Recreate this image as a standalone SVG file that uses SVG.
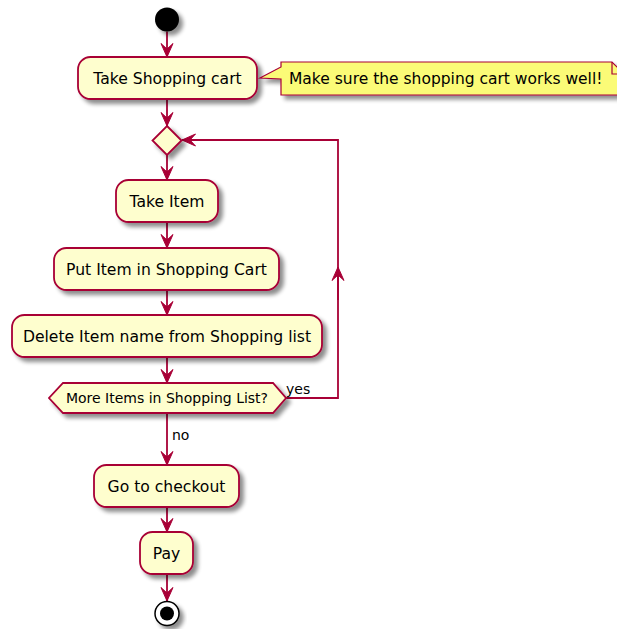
<svg xmlns="http://www.w3.org/2000/svg" width="617" height="629" viewBox="0 0 617 629">
<defs>
<filter id="sh" x="-20%" y="-20%" width="150%" height="160%">
<feGaussianBlur in="SourceAlpha" stdDeviation="2"/>
<feOffset dx="4" dy="4" result="o"/>
<feComponentTransfer><feFuncA type="linear" slope="0.45"/></feComponentTransfer>
<feMerge><feMergeNode/><feMergeNode in="SourceGraphic"/></feMerge>
</filter>
<marker id="ah" viewBox="0 0 15 14" refX="14" refY="7" markerWidth="15" markerHeight="14" markerUnits="userSpaceOnUse" orient="auto">
<path d="M14,7 L0.5,1 L6,7 L0.5,13 Z" fill="#A80036" stroke="#A80036" stroke-width="1"/>
</marker>
</defs>
<style>
.act{fill:#FEFECE;stroke:#A80036;stroke-width:1.8}
.t{font-family:"DejaVu Sans","Liberation Sans",sans-serif;font-size:15.6px;fill:#000;text-anchor:middle}
.s{font-family:"DejaVu Sans","Liberation Sans",sans-serif;font-size:14px;fill:#000}
.c{fill:none;stroke:#A80036;stroke-width:1.8}
</style>
<g id="connectors">
<path class="c" d="M167,31.5 V57" marker-end="url(#ah)"/>
<path class="c" d="M167,99 V126" marker-end="url(#ah)"/>
<path class="c" d="M167,155 V180" marker-end="url(#ah)"/>
<path class="c" d="M167,222 V248" marker-end="url(#ah)"/>
<path class="c" d="M167,290 V315" marker-end="url(#ah)"/>
<path class="c" d="M167,357 V383" marker-end="url(#ah)"/>
<path class="c" d="M167,413 V465" marker-end="url(#ah)"/>
<path class="c" d="M167,507 V532" marker-end="url(#ah)"/>
<path class="c" d="M167,574 V601" marker-end="url(#ah)"/>
<path class="c" d="M286,398 H338 V140 H182"/>
<path class="c" d="M338,300 V267" marker-end="url(#ah)"/>
<path class="c" d="M240,140 H182" marker-end="url(#ah)"/>
<text class="s" x="286" y="394">yes</text>
<text class="s" x="172" y="440">no</text>
</g>
<g id="start"><circle cx="167" cy="19.5" r="12" fill="#000" filter="url(#sh)"/></g>
<g id="take-cart">
<rect class="act" x="78" y="57" width="179" height="42" rx="12.5" filter="url(#sh)"/>
<text class="t" x="167.5" y="84">Take Shopping cart</text>
</g>
<g id="note">
<path d="M281,62 H612 L624,74 V95 H281 V79 L260,78 L281,67 Z" fill="#FBFB77" stroke="#A80036" stroke-width="1.2" filter="url(#sh)"/>
<path d="M612,62 V74 H624" fill="none" stroke="#A80036" stroke-width="1.2"/>
<text class="t" style="text-anchor:start;font-size:15.5px" x="289" y="84">Make sure the shopping cart works well!</text>
</g>
<g id="loop-merge">
<path class="act" d="M167,126 L181.5,140.5 L167,155 L152.5,140.5 Z" filter="url(#sh)"/>
</g>
<g id="take-item">
<rect class="act" x="116" y="180" width="102" height="42" rx="12.5" filter="url(#sh)"/>
<text class="t" x="167" y="207">Take Item</text>
</g>
<g id="put-item">
<rect class="act" x="54" y="248" width="225" height="42" rx="12.5" filter="url(#sh)"/>
<text class="t" x="166.5" y="275">Put Item in Shopping Cart</text>
</g>
<g id="delete-item">
<rect class="act" x="12" y="315" width="310" height="42" rx="12.5" filter="url(#sh)"/>
<text class="t" x="167" y="342">Delete Item name from Shopping list</text>
</g>
<g id="more-items">
<path class="act" d="M63,383 H273 L286,398 L273,413 H63 L49,398 Z" filter="url(#sh)"/>
<text class="s" style="text-anchor:middle" x="167" y="403">More Items in Shopping List?</text>
</g>
<g id="checkout">
<rect class="act" x="94" y="465" width="145" height="42" rx="12.5" filter="url(#sh)"/>
<text class="t" x="166.5" y="492">Go to checkout</text>
</g>
<g id="pay">
<rect class="act" x="140" y="532" width="53" height="42" rx="12.5" filter="url(#sh)"/>
<text class="t" x="166.5" y="559">Pay</text>
</g>
<g id="end">
<circle cx="167" cy="613.5" r="12" fill="#fff" stroke="#000" stroke-width="1.5" filter="url(#sh)"/>
<circle cx="167" cy="613.5" r="7" fill="#000"/>
</g>
</svg>
